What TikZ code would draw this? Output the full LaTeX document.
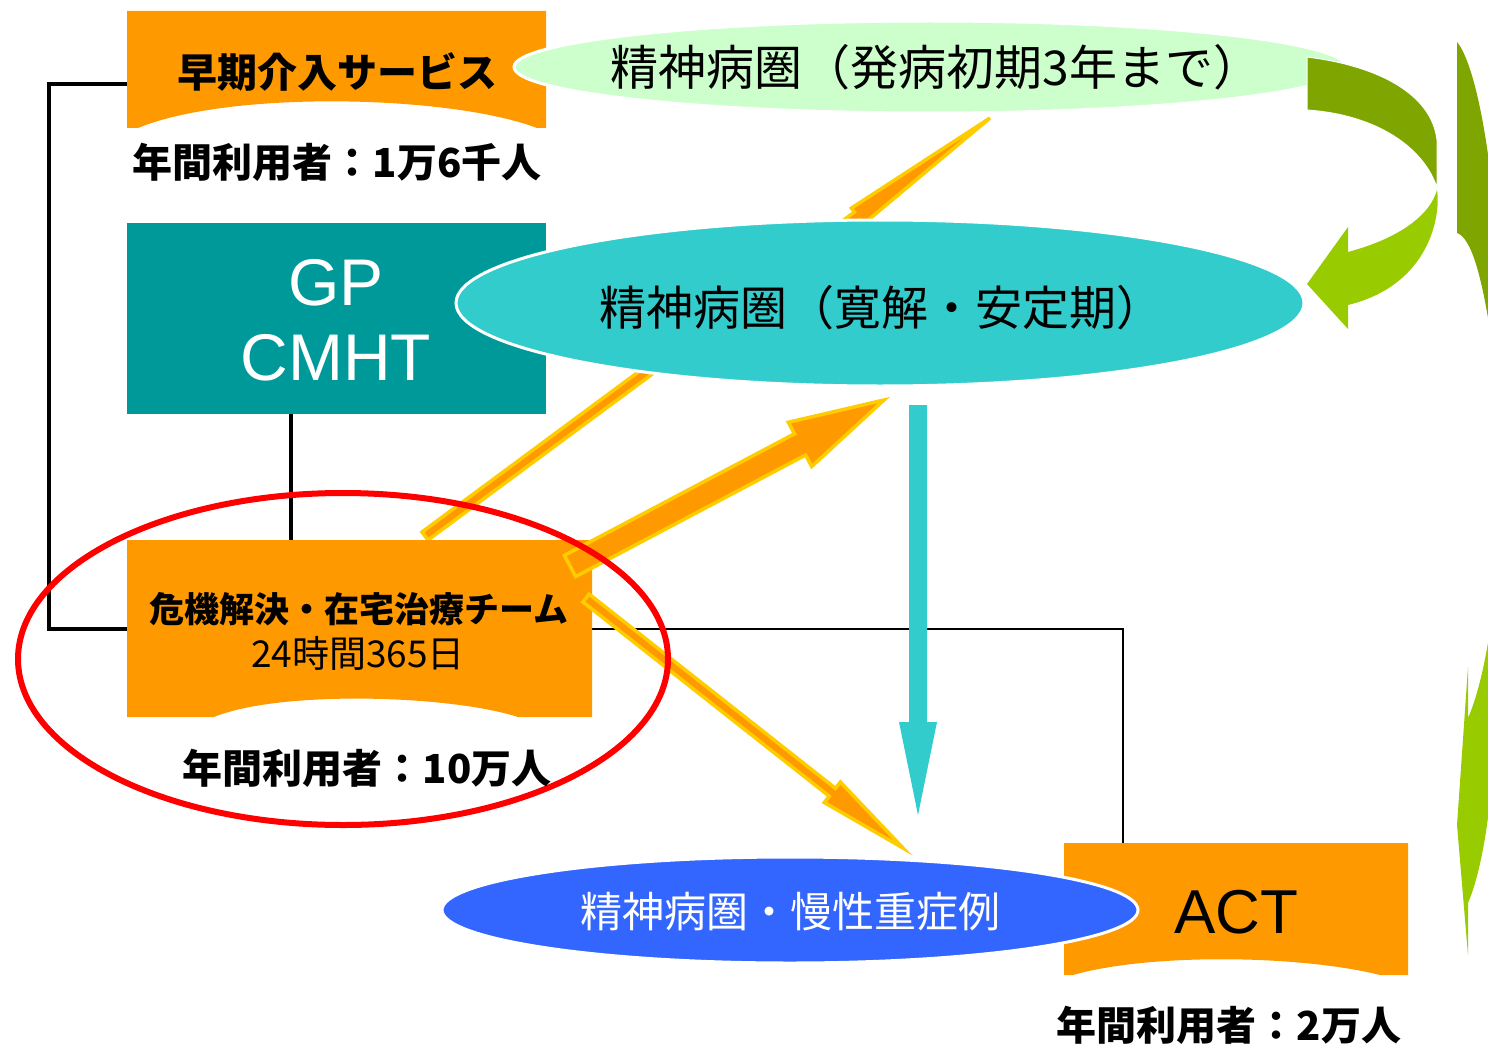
\documentclass[tikz,border=0pt]{standalone}
\usepackage{fontspec}
\newfontfamily\jp{Noto Sans CJK JP}
\newfontfamily\arial{Liberation Sans}
\usetikzlibrary{calc,shapes.geometric}
\definecolor{orng}{HTML}{FF9900}
\definecolor{yel}{HTML}{FFCC00}
\definecolor{tealbox}{HTML}{009999}
\definecolor{tealell}{HTML}{33CCCC}
\definecolor{lgreen}{HTML}{CCFFCC}
\definecolor{blueell}{HTML}{3366FF}
\definecolor{olivegr}{HTML}{7FA600}
\definecolor{limegr}{HTML}{99CC00}
% #1 name, #2 style, #3 tail, #4 tip, #5 half shaft, #6 half head, #7 head length
\newcommand\blockarrow[7]{%
  \coordinate (#1h) at ($(#4)!#7!(#3)$);
  \path[#2] ($(#3)!#5!90:(#4)$) -- ($(#1h)!#5!90:(#4)$) -- ($(#1h)!#6!90:(#4)$) -- (#4)
    -- ($(#1h)!#6!-90:(#4)$) -- ($(#1h)!#5!-90:(#4)$) -- ($(#3)!#5!-90:(#4)$) -- cycle;}
\begin{document}
\begin{tikzpicture}[x=1pt,y=-1pt,
  boxfill/.style={fill=orng},
  blkarrow/.style={fill=orng,draw=yel,line width=3.5pt,line join=miter},
  tealarrow/.style={fill=tealell},
  thickline/.style={line width=3.5pt},
  thinline/.style={line width=1.6pt},
  ellnode/.style={ellipse,draw=white,line width=3pt,inner sep=0pt},
  jpbig/.style={font=\jp\fontsize{#1}{#1}\selectfont,inner sep=0pt},
  jpbold/.style={font=\jp\bfseries\fontsize{#1}{#1}\selectfont,inner sep=0pt},
  latin/.style={font=\arial\fontsize{#1}{#1}\selectfont,inner sep=0pt}]
\useasboundingbox (0,0) rectangle (1488,1046);

% named anchor points
\coordinate (b1w) at (127,84);
\coordinate (gpS) at (291,414);
\coordinate (crN) at (291,540);
\coordinate (crW) at (127,629);
\coordinate (crE) at (592,629);
\coordinate (actN) at (1123,843);
\coordinate (lbx) at (49,84);

% long arrow from crisis team to early stage ellipse (behind)
\coordinate (a3tail) at (425,536);
\coordinate (a3tip) at (990,118);
\blockarrow{a3}{blkarrow}{a3tail}{a3tip}{5pt}{10pt}{165pt}

% connectors
\draw[thickline] (b1w) -- (lbx) |- (crW);
\draw[thickline] (gpS) -- (crN);
\draw[thinline] (crE) -| (actN);

% boxes
\fill[boxfill] (127,11) -- (546,11) -- (546,128) -- (537,128)
  .. controls (450,95) and (230,90) .. (138,128) -- (127,128) -- cycle;
\fill[tealbox] (127,223) rectangle (546,414);
\fill[boxfill] (127,540) -- (592,540) -- (592,717) -- (518,717)
  .. controls (450,695) and (280,690) .. (214,717) -- (127,717) -- cycle;
\fill[boxfill] (1064,843) -- (1408,843) -- (1408,975) -- (1380,975)
  .. controls (1300,955) and (1150,953) .. (1073,975) -- (1064,975) -- cycle;

% ellipses
\node[ellnode,fill=lgreen,minimum width=832pt,minimum height=92pt] (e1) at (930,67) {};
\node[ellnode,fill=tealell,minimum width=848pt,minimum height=166pt] (e2) at (880,303) {};
\node[ellnode,fill=blueell,minimum width=696pt,minimum height=106pt] (e3) at (790,910) {};

% orange arrows from crisis team
\coordinate (a1tail) at (570,566);
\coordinate (a1tip) at (884,400);
\blockarrow{a1}{blkarrow}{a1tail}{a1tip}{12pt}{25pt}{95pt}
\coordinate (a2tail) at (586,598);
\coordinate (a2tip) at (903,848);
\blockarrow{a2}{blkarrow}{a2tail}{a2tip}{5pt}{13pt}{90pt}

% teal down arrow
\coordinate (tdtail) at (918,405);
\coordinate (tdtip) at (918,815);
\blockarrow{td}{tealarrow}{tdtail}{tdtip}{9pt}{19pt}{93pt}

% green curved arrow (small)
\fill[olivegr,draw=white,line width=1pt] (1307,57) .. controls (1380,66) and (1432,95) .. (1437,140)
  -- (1437,188) .. controls (1425,150) and (1380,115) .. (1307,110) -- cycle;
\fill[limegr] (1437,190) .. controls (1441,215) and (1430,285) .. (1348,305)
  -- (1348,329) -- (1307,284) -- (1348,227) -- (1348,252)
  .. controls (1400,238) and (1430,215) .. (1437,190) -- cycle;

% large curved arrow at right edge (partly off canvas)
\begin{scope}
\clip (0,0) rectangle (1488,1046);
\fill[olivegr] (1457,42) .. controls (1472,60) and (1484,120) .. (1490,170)
  -- (1490,330) .. controls (1482,280) and (1472,238) .. (1457,233) -- cycle;
\fill[limegr] (1490,630) .. controls (1484,670) and (1476,700) .. (1468,718)
  -- (1468,667) -- (1457,825) -- (1468,955) -- (1468,903)
  .. controls (1478,880) and (1486,840) .. (1490,800) -- cycle;
\end{scope}

% red ellipse
\draw[red,line width=6pt] (343,659) ellipse [x radius=325pt,y radius=166pt];

% texts
\node[jpbold=40] (t1) at (337,72) {早期介入サービス};
\node[jpbold=40] (u1) at (337,162) {年間利用者：1万6千人};
\node[latin=66,text=white] (gp) at (336,283) {GP};
\node[latin=66,text=white] (cmht) at (336,358) {CMHT};
\node[jpbold=35] (cr1) at (359,609) {危機解決・在宅治療チーム};
\node[jpbig=37] (cr2) at (358,653) {24時間365日};
\node[jpbold=40] (u2) at (367,768) {年間利用者：10万人};
\node[latin=62] (act) at (1236,912) {ACT};
\node[jpbold=40] (u3) at (1229,1025) {年間利用者：2万人};
\node[jpbig=48] (e1t) at (936,67) {精神病圏（発病初期3年まで）};
\node[jpbig=47] (e2t) at (881,308) {精神病圏（寛解・安定期）};
\node[jpbig=42,text=white] (e3t) at (790,912) {精神病圏・慢性重症例};
\end{tikzpicture}
\end{document}
